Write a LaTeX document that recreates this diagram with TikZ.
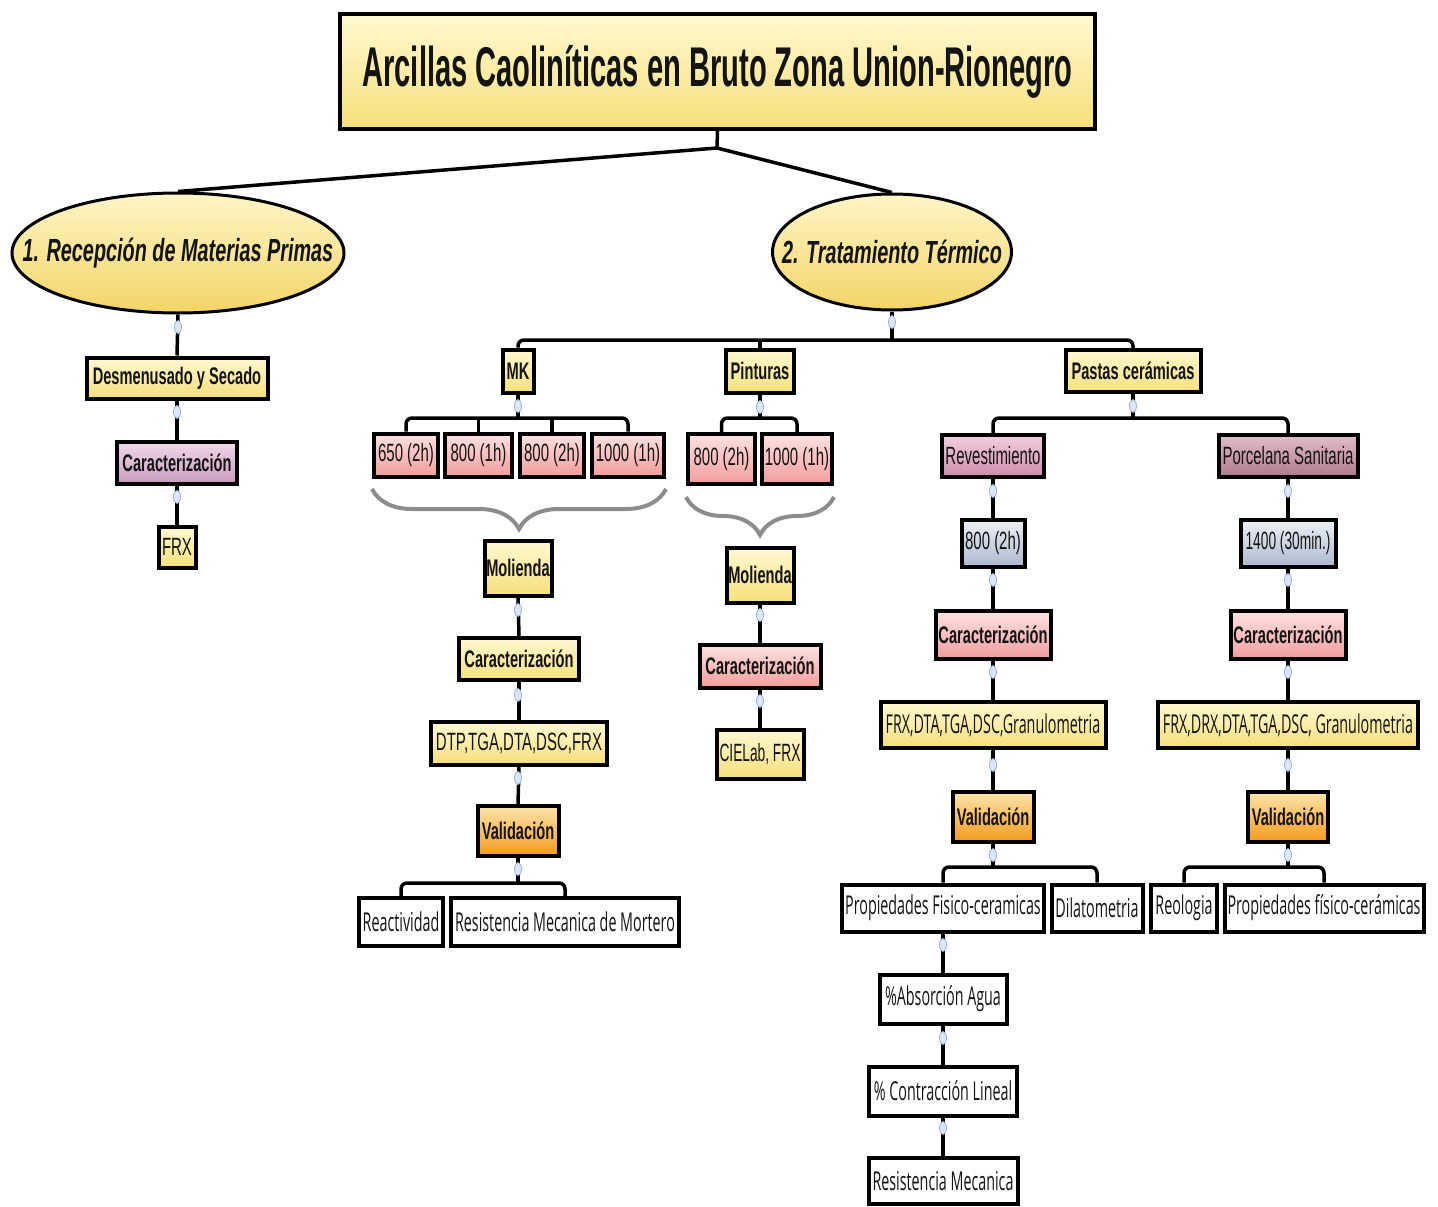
\documentclass[tikz,border=0pt]{standalone}
\usepackage{fontspec}
\setmainfont{Liberation Sans}
\newfontfamily\fT[FakeStretch=0.52]{Liberation Sans}
\newfontfamily\fB[FakeStretch=0.61]{Liberation Sans}
\newfontfamily\fE[FakeStretch=0.62]{Liberation Sans}
\newfontfamily\fR[FakeStretch=0.6]{Liberation Sans}
\newfontfamily\fRn[FakeStretch=0.55]{Liberation Sans}
\newfontfamily\fS[FakeStretch=0.55]{Open Sans}
\usetikzlibrary{shapes.geometric,decorations.pathreplacing}
\definecolor{yTop}{HTML}{FFF9D2}
\definecolor{yBot}{HTML}{F6DF7A}
\definecolor{eTop}{HTML}{FFF6C8}
\definecolor{eBot}{HTML}{F3D466}
\definecolor{pTop}{HTML}{FDE2E2}
\definecolor{pBot}{HTML}{F29C9C}
\definecolor{mTop}{HTML}{F0D8EA}
\definecolor{mBot}{HTML}{C89ABD}
\definecolor{rTop}{HTML}{F3CFE0}
\definecolor{rBot}{HTML}{CC8BAB}
\definecolor{sTop}{HTML}{E2BDC8}
\definecolor{sBot}{HTML}{AE7A8C}
\definecolor{bTop}{HTML}{ECF0F6}
\definecolor{bBot}{HTML}{AEB9CE}
\definecolor{oTop}{HTML}{FCE4AA}
\definecolor{oBot}{HTML}{F39A1C}
\definecolor{knobF}{HTML}{DCE6F6}
\definecolor{knobD}{HTML}{9DB3D6}
\definecolor{brcol}{HTML}{8C8C8C}
\definecolor{ink}{HTML}{141414}
\begin{document}
\begin{tikzpicture}[x=1pt,y=-1pt,
  box/.style={draw=black, line width=4pt, rectangle, inner sep=0pt, align=center, text=ink},
  yb/.style={box, top color=yTop, bottom color=yBot},
  pb/.style={box, top color=pTop, bottom color=pBot},
  mb/.style={box, top color=mTop, bottom color=mBot},
  rb/.style={box, top color=rTop, bottom color=rBot},
  sb/.style={box, top color=sTop, bottom color=sBot},
  bb/.style={box, top color=bTop, bottom color=bBot},
  ob/.style={box, top color=oTop, bottom color=oBot},
  wb/.style={box, fill=white},
  bt/.style={font=\fB\bfseries\fontsize{24}{28}\selectfont},
  rt/.style={font=\fR\fontsize{25}{29}\selectfont},
  rtn/.style={font=\fRn\fontsize{25}{29}\selectfont},
  st/.style={font=\fS\fontsize{26}{30}\selectfont},
  ell/.style={ellipse, draw=black, line width=3pt, top color=eTop, bottom color=eBot, inner sep=0pt},
  etext/.style={inner sep=0pt, text=ink, font=\fE\bfseries\itshape\fontsize{32}{36}\selectfont},
  link/.style={draw=black, line width=3.5pt, rounded corners=6pt},
  knob/.style={ellipse, draw=knobD, fill=knobF, line width=0.8pt, minimum width=7pt, minimum height=13pt, inner sep=0pt},
  brc/.style={draw=brcol, line width=4pt, decorate, decoration={brace, amplitude=#1}}
]
\fill[white] (0,0) rectangle (1438,1207);
\useasboundingbox (0,0) rectangle (1438,1207);

% ---- nodes ----
\node[yb, font=\fT\bfseries\fontsize{56}{60}\selectfont, minimum width=755, minimum height=115] (title) at (717.5,71.5) {Arcillas Caoliníticas en Bruto Zona Union-Rionegro};
\node[ell, minimum width=332, minimum height=120] (e1) at (178,253) {};
\node[etext] (e1t) at (e1.center) {1. Recepción de Materias Primas};
\node[ell, minimum width=239, minimum height=116] (e2) at (892,252) {};
\node[etext] (e2t) at (e2.center) {2. Tratamiento Térmico};

% left branch
\node[yb, bt, minimum width=181, minimum height=41] (desm) at (177,378) {Desmenusado y Secado};
\node[mb, bt, minimum width=120, minimum height=42] (car0) at (177,463) {Caracterización};
\node[yb, rt, minimum width=37, minimum height=41] (frx0) at (177,547) {FRX};

% level 2
\node[yb, bt, minimum width=31, minimum height=43] (mk) at (518,371) {MK};
\node[yb, bt, minimum width=68, minimum height=43] (pint) at (760,371) {Pinturas};
\node[yb, bt, minimum width=135, minimum height=42] (past) at (1133,371) {Pastas cerámicas};

% MK branch
\node[pb, rt, minimum width=64, minimum height=43] (mk1) at (406,455) {650 (2h)};
\node[pb, rt, minimum width=67, minimum height=43] (mk2) at (478.5,455) {800 (1h)};
\node[pb, rt, minimum width=64, minimum height=43] (mk3) at (552,455) {800 (2h)};
\node[pb, rt, minimum width=72, minimum height=43] (mk4) at (628,455) {1000 (1h)};
\node[yb, bt, minimum width=67, minimum height=55] (mol1) at (518,568) {Molienda};
\node[yb, bt, minimum width=120, minimum height=42] (car1) at (519,659) {Caracterización};
\node[yb, rt, minimum width=176, minimum height=43] (dtp) at (519,743) {DTP,TGA,DTA,DSC,FRX};
\node[ob, bt, minimum width=81, minimum height=50] (val1) at (518,831) {Validación};
\node[wb, st, minimum width=84, minimum height=48] (react) at (401,922) {Reactividad};
\node[wb, st, minimum width=228, minimum height=48] (resmort) at (565,922) {Resistencia Mecanica de Mortero};

% Pinturas branch
\node[pb, rt, minimum width=67, minimum height=50] (p1) at (721.5,459) {800 (2h)};
\node[pb, rt, minimum width=70, minimum height=50] (p2) at (797,459) {1000 (1h)};
\node[yb, bt, minimum width=67, minimum height=55] (mol2) at (760,575) {Molienda};
\node[pb, bt, minimum width=121, minimum height=43] (car2) at (760,666) {Caracterización};
\node[yb, rtn, minimum width=87, minimum height=49] (ciel) at (760,754) {CIELab, FRX};

% Pastas branch
\node[rb, rt, minimum width=102, minimum height=42] (rev) at (993,456) {Revestimiento};
\node[sb, rt, minimum width=139, minimum height=42] (porc) at (1288,456) {Porcelana Sanitaria};
\node[bb, rt, minimum width=63, minimum height=47] (t800) at (993,543) {800 (2h)};
\node[bb, rtn, minimum width=95, minimum height=47] (t1400) at (1288,543) {1400 (30min.)};
\node[pb, bt, minimum width=115, minimum height=48] (car3) at (993,635) {Caracterización};
\node[pb, bt, minimum width=115, minimum height=48] (car4) at (1288,635) {Caracterización};
\node[yb, st, minimum width=225, minimum height=46] (frx3) at (993,725) {FRX,DTA,TGA,DSC,Granulometria};
\node[yb, st, minimum width=260, minimum height=46] (frx4) at (1288,725) {FRX,DRX,DTA,TGA,DSC, Granulometria};
\node[ob, bt, minimum width=81, minimum height=50] (val3) at (993,817) {Validación};
\node[ob, bt, minimum width=80, minimum height=50] (val4) at (1288,817) {Validación};
\node[wb, st, minimum width=202, minimum height=47] (prop3) at (943,908) {Propiedades Fisico-ceramicas};
\node[wb, st, minimum width=91, minimum height=47] (dila) at (1097,908) {Dilatometria};
\node[wb, st, minimum width=66, minimum height=47] (reol) at (1184,908) {Reologia};
\node[wb, st, minimum width=199, minimum height=47] (prop4) at (1324,908) {Propiedades físico-cerámicas};
\node[wb, st, minimum width=127, minimum height=49] (abs) at (943,999) {\%Absorción Agua};
\node[wb, st, minimum width=148, minimum height=49] (contr) at (943,1091) {\% Contracción Lineal};
\node[wb, st, minimum width=149, minimum height=46] (resm) at (943,1181) {Resistencia Mecanica};

% ---- junctions ----
\coordinate (jt) at (717,148);
\coordinate (j2) at (892,340);
\coordinate (jmk) at (518,418);
\coordinate (jp) at (760,418);
\coordinate (jpa) at (1133,418);
\coordinate (jv1) at (518,883);
\coordinate (jv3) at (993,867);
\coordinate (jv4) at (1288,867);

% ---- connectors ----
\draw[link, rounded corners=0pt] (title.south) -- (jt);
\draw[link, rounded corners=0pt] (jt) -- (e1.north);
\draw[link, rounded corners=0pt] (jt) -- (e2.north);
\draw[link] (e1.south) -- (desm.north);
\draw[link] (desm.south) -- (car0.north);
\draw[link] (car0.south) -- (frx0.north);
\draw[link] (e2.south) -- (j2);
\draw[link] (mk.north) |- (j2) -| (past.north);
\draw[link] (pint.north) -- (pint.north |- j2);
% MK
\draw[link] (mk.south) -- (jmk);
\draw[link] (mk1.north) |- (jmk) -| (mk4.north);
\draw[link] (mk2.north) -- (mk2.north |- jmk);
\draw[link] (mk3.north) -- (mk3.north |- jmk);
\draw[link] (mol1.south) -- (car1.north);
\draw[link] (car1.south) -- (dtp.north);
\draw[link] (dtp.south) -- (val1.north);
\draw[link] (val1.south) -- (jv1);
\draw[link] (react.north) |- (jv1) -| (resmort.north);
% Pinturas
\draw[link] (pint.south) -- (jp);
\draw[link] (p1.north) |- (jp) -| (p2.north);
\draw[link] (mol2.south) -- (car2.north);
\draw[link] (car2.south) -- (ciel.north);
% Pastas
\draw[link] (past.south) -- (jpa);
\draw[link] (rev.north) |- (jpa) -| (porc.north);
\draw[link] (rev.south) -- (t800.north);
\draw[link] (t800.south) -- (car3.north);
\draw[link] (car3.south) -- (frx3.north);
\draw[link] (frx3.south) -- (val3.north);
\draw[link] (val3.south) -- (jv3);
\draw[link] (prop3.north) |- (jv3) -| (dila.north);
\draw[link] (porc.south) -- (t1400.north);
\draw[link] (t1400.south) -- (car4.north);
\draw[link] (car4.south) -- (frx4.north);
\draw[link] (frx4.south) -- (val4.north);
\draw[link] (val4.south) -- (jv4);
\draw[link] (reol.north) |- (jv4) -| (prop4.north);
\draw[link] (prop3.south) -- (abs.north);
\draw[link] (abs.south) -- (contr.north);
\draw[link] (contr.south) -- (resm.north);

% ---- braces ----
\coordinate (bmR) at (666,489);
\coordinate (bmL) at (372,489);
\coordinate (bpR) at (834,497);
\coordinate (bpL) at (686,497);
\draw[brc=40pt] (bmR) -- (bmL);
\draw[brc=38pt] (bpR) -- (bpL);

% ---- collapse knobs ----
\node[knob] (k1) at (178,327) {};
\node[knob] (k2) at (177,412) {};
\node[knob] (k3) at (177,497) {};
\node[knob] (k4) at (892,322) {};
\node[knob] (k5) at (518,406) {};
\node[knob] (k6) at (760,407) {};
\node[knob] (k7) at (1133,406) {};
\node[knob] (k8) at (518,610) {};
\node[knob] (k9) at (518,695) {};
\node[knob] (k10) at (518,778) {};
\node[knob] (k11) at (518,869) {};
\node[knob] (k12) at (760,615) {};
\node[knob] (k13) at (760,701) {};
\node[knob] (k14) at (993,491) {};
\node[knob] (k15) at (1288,491) {};
\node[knob] (k16) at (993,580) {};
\node[knob] (k17) at (1288,580) {};
\node[knob] (k18) at (993,672) {};
\node[knob] (k19) at (1288,672) {};
\node[knob] (k20) at (993,765) {};
\node[knob] (k21) at (1288,765) {};
\node[knob] (k22) at (993,855) {};
\node[knob] (k23) at (1288,855) {};
\node[knob] (k24) at (943,945) {};
\node[knob] (k25) at (943,1038) {};
\node[knob] (k26) at (943,1128) {};
\end{tikzpicture}
\end{document}
